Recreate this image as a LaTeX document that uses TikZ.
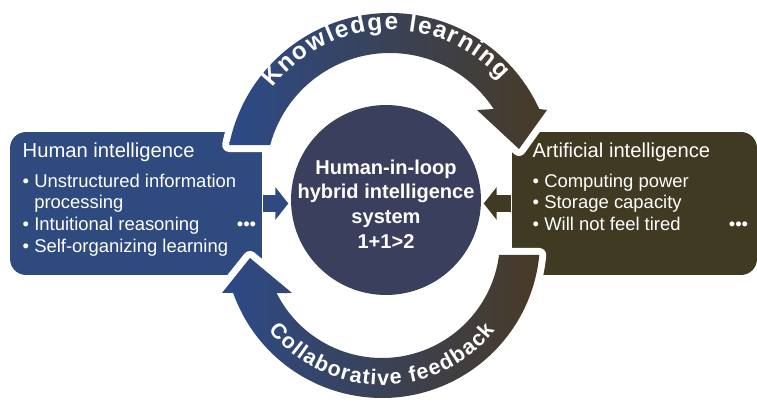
\documentclass[tikz,border=0pt]{standalone}
\usepackage{fontspec}
\setmainfont{Liberation Sans}
\usetikzlibrary{arrows.meta,decorations.text}
\definecolor{humanblue}{RGB}{46,74,126}
\definecolor{aibrown}{RGB}{64,58,34}
\definecolor{hubslate}{RGB}{59,63,94}
\definecolor{loopblue}{RGB}{44,74,136}
\definecolor{loopmid}{RGB}{62,60,108}
\definecolor{loopbrown}{RGB}{72,58,38}

\begin{document}
\begin{tikzpicture}[x=0.02cm,y=0.02cm,thick]
  \tikzstyle{infobox}=[rectangle, rounded corners=0.32cm, minimum height=2.86cm, inner sep=0pt]
  \tikzstyle{boxtext}=[text=white, align=left, inner sep=0pt, anchor=north west, font=\fontsize{10.5}{12.3}\selectfont]
  \tikzstyle{moredots}=[text=white, inner sep=0pt, font=\fontsize{10.5}{12}\selectfont]
  \tikzstyle{feedarrow}=[line width=0.34cm, shorten >=0.04cm, -{Triangle[length=0.26cm,width=0.64cm]}]
  \tikzstyle{looparc}=[left color=loopblue, middle color=loopmid, right color=loopbrown, preaction={draw=white, line width=0.28cm, line join=round}]
  \tikzset{looplabel/.style 2 args={decorate, decoration={text effects along path, text align=center,
    text effects/.cd, text along path, characters={text=white, inner xsep=#2, font=\fontsize{#1}{#1}\selectfont\bfseries},
    character widths={inner xsep=#2, font=\fontsize{#1}{#1}\selectfont\bfseries}}}}
  \useasboundingbox (0,0) rectangle (757,405);
  \node[infobox, fill=humanblue, minimum width=5.04cm] (human) at (136,201.5) {};
  \node[infobox, fill=aibrown, minimum width=4.9cm] (ai) at (634.5,201.5) {};
  \node[circle, fill=hubslate, minimum size=3.8cm, inner sep=0pt] (hybrid) at (386,205) {};
  \draw[feedarrow, humanblue] (human.east) -- (hybrid.west |- human.east);
  \draw[feedarrow, aibrown] (ai.west) -- (hybrid.east |- ai.west);
  \coordinate (kc) at (390,228);
  \coordinate (fc) at (382,165);
  \path[looparc] ([shift={(168.75:164)}]kc) arc[start angle=168.75, end angle=24.5, radius=164]
    -- (547,295) -- (519,256) -- (477,295)
    -- ([shift={(33.25:124)}]kc) arc[start angle=33.25, end angle=165.05, radius=124] -- cycle;
  \path[looparc] ([shift={(-5.45:158)}]fc) arc[start angle=-5.45, end angle=-160.4, radius=158]
    -- (222,112) -- (250,147) -- (292,112)
    -- ([shift={(-153.3:118)}]fc) arc[start angle=-153.3, end angle=-7.3, radius=118] -- cycle;
  \path[looplabel={13.8}{0.5pt}, decoration={text={Knowledge learning}}]
    ([shift={(172:147)}]kc) arc[start angle=172, end angle=12, radius=147];
  \path[looplabel={12.2}{0.35pt}, decoration={text={Collaborative feedback}}]
    ([shift={(190:145)}]fc) arc[start angle=190, end angle=350, radius=145];
  \node[boxtext] (humantext) at (22,263) {{\fontsize{11.5}{12.3}\selectfont Human intelligence}\\[4.7pt]
    \textbullet\ Unstructured information\\
    \hphantom{\textbullet\ }processing\\
    \textbullet\ Intuitional reasoning\\
    \textbullet\ Self-organizing learning};
  \node[boxtext] (aitext) at (532,263) {{\fontsize{11.5}{12.3}\selectfont Artificial intelligence}\\[4.7pt]
    \textbullet\ Computing power\\
    \textbullet\ Storage capacity\\
    \textbullet\ Will not feel tired};
  \node[moredots] (humandots) at (246.5,179) {\textbullet\textbullet\textbullet};
  \node[moredots] (aidots) at (738.5,179) {\textbullet\textbullet\textbullet};
  \node[text=white, align=center, font=\fontsize{11.4}{14}\selectfont\bfseries, inner sep=0pt] (hybridtext) at (386,201)
    {Human-in-loop\\hybrid intelligence\\system\\1+1>2};
\end{tikzpicture}
\end{document}
